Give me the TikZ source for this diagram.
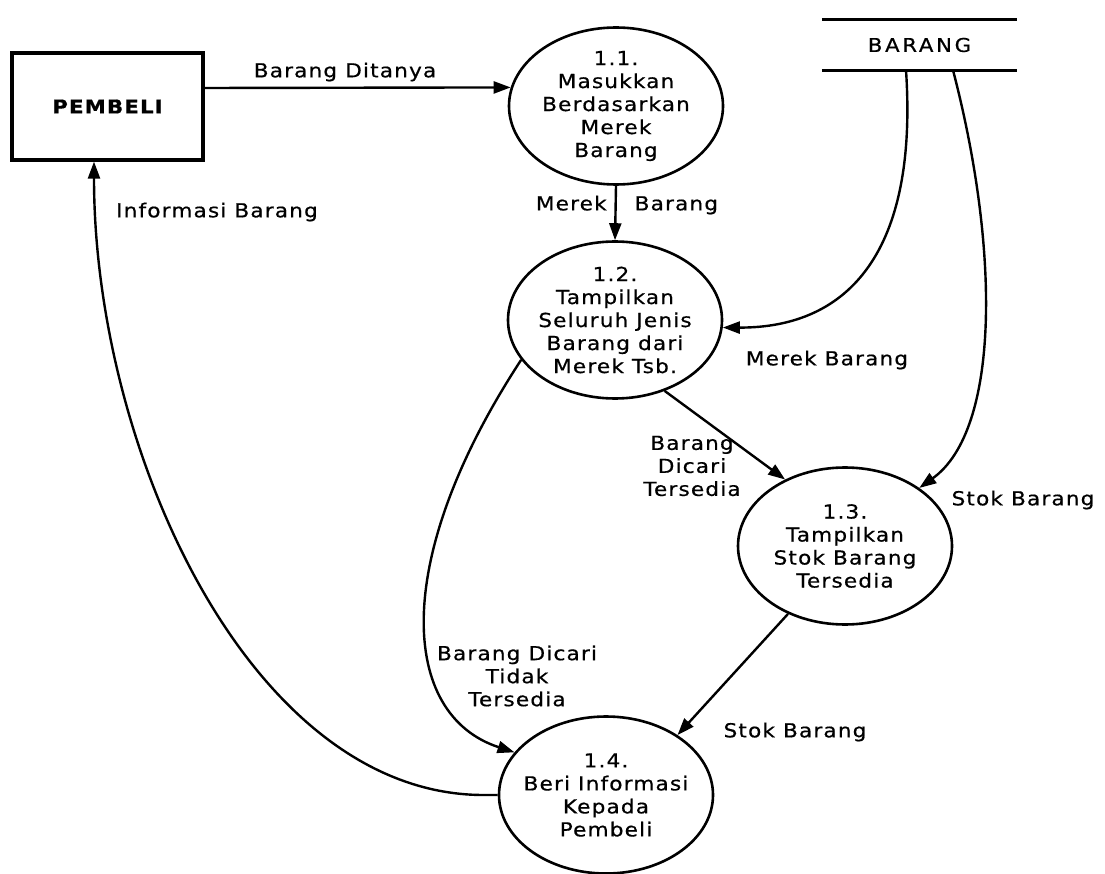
\documentclass[tikz,border=0pt]{standalone}
\usepackage{fontspec}
\setmainfont[FakeStretch=1.12,LetterSpace=6,FakeBold=0.6]{DejaVu Sans}
\usetikzlibrary{shapes.geometric,arrows.meta}
\begin{document}
\begin{tikzpicture}[x=1pt,y=-1pt,
  every node/.style={font=\fontsize{19.3}{23}\selectfont, align=center, inner sep=0pt},
  proc/.style={ellipse, draw, line width=2.6pt, minimum width=214pt, minimum height=157pt},
  ent/.style={rectangle, draw, line width=3.2pt, minimum width=191pt, minimum height=107pt},
  store/.style={rectangle, minimum width=195pt, minimum height=50pt},
  storeline/.style={line width=3pt},
  flow/.style={draw, line width=2.4pt, -{Triangle[length=17pt,width=12pt]}}
]
\useasboundingbox (0,0) rectangle (1105,874);

% entities and store
\node[ent, font=\fontsize{19}{23}\selectfont\bfseries] (pembeli) at (107.5,106.5) {PEMBELI};
\node[store, font=\fontsize{19}{23}\selectfont\addfontfeature{LetterSpace=14}] (barang) at (919.5,45) {BARANG};
\draw[storeline] (barang.north west) -- (barang.north east);
\draw[storeline] (barang.south west) -- (barang.south east);

% processes
\node[proc, label={[align=center]center:{1.1.\\Masukkan\\Berdasarkan\\Merek\\Barang}}] (p11) at (616,106) {};
\node[proc, label={[align=center]center:{1.2.\\Tampilkan\\Seluruh Jenis\\Barang dari\\Merek Tsb.}}] (p12) at (615,320) {};
\node[proc, label={[align=center]center:{1.3.\\Tampilkan\\Stok Barang\\Tersedia}}] (p13) at (845,546) {};
\node[proc, label={[align=center]center:{1.4.\\Beri Informasi\\Kepada\\Pembeli}}] (p14) at (606,795) {};

% flows
\draw[flow] ([yshift=18.5pt]pembeli.east) -- (p11.170);
\draw[flow] (p11.south) -- (p12.north);
\draw[flow] ([xshift=-13.5pt]barang.south) .. controls (918,250) and (850,328) .. (p12.-4);
\draw[flow] ([xshift=33.5pt]barang.south) .. controls (1000,250) and (1000,430) .. (p13.38);
\draw[flow] (p12.-55) -- (p13.132);
\draw[flow] (p12.203) .. controls (390,560) and (400,715) .. (p14.155);
\draw[flow] (p13.230) -- (p14.40);
\draw[flow] (p14.west) -- ++(-16,0) .. controls (250,793) and (94,450) .. ([xshift=-13.5pt]pembeli.south);

% labels
\node at (345,72) {Barang Ditanya};
\node at (217,212) {Informasi Barang};
\node at (627,205) {Merek\hskip28pt Barang};
\node at (827,360) {Merek Barang};
\node at (1023,500) {Stok Barang};
\node at (795,732) {Stok Barang};
\node at (692,466) {Barang\\Dicari\\Tersedia};
\node at (517,676) {Barang Dicari\\Tidak\\Tersedia};
\end{tikzpicture}
\end{document}
